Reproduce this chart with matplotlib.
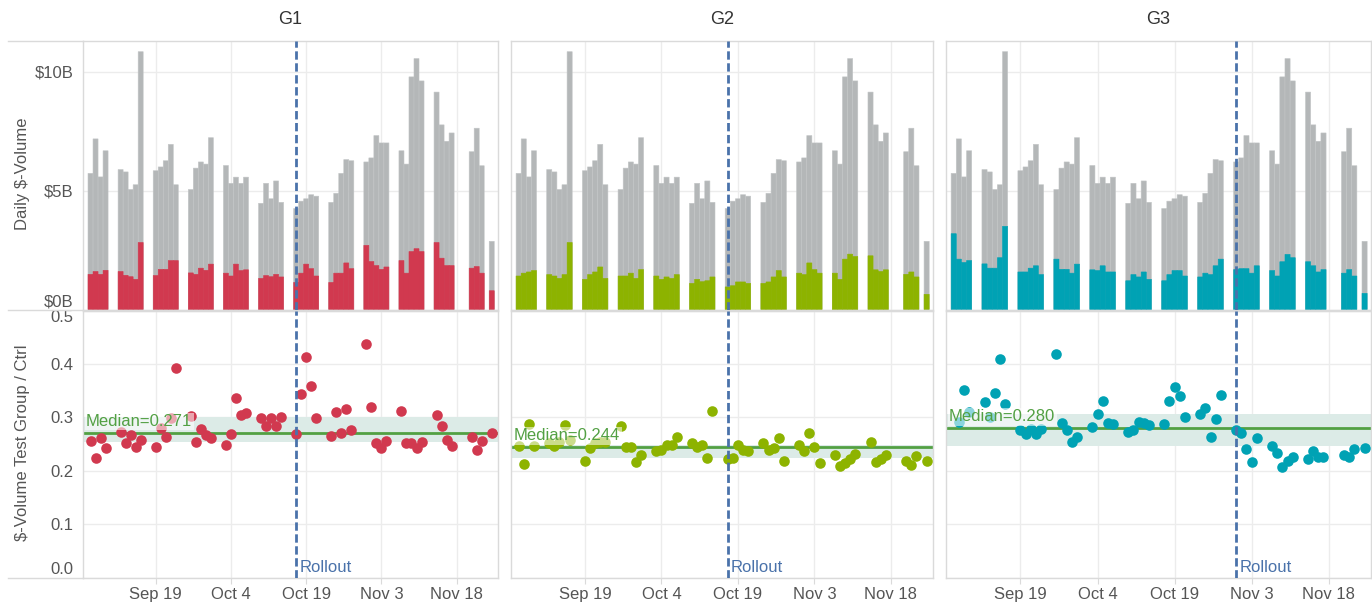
import matplotlib
matplotlib.use("Agg")
import matplotlib.pyplot as plt
import matplotlib.dates as mdates
from matplotlib.lines import Line2D
import pandas as pd

plt.rcParams['font.family'] = ['Liberation Sans', 'DejaVu Sans']

# trading days shown (Labor Day, Nov 18 and Thanksgiving are absent)
dates = [
    "2016-09-06", "2016-09-07", "2016-09-08", "2016-09-09",
    "2016-09-12", "2016-09-13", "2016-09-14", "2016-09-15", "2016-09-16",
    "2016-09-19", "2016-09-20", "2016-09-21", "2016-09-22", "2016-09-23",
    "2016-09-26", "2016-09-27", "2016-09-28", "2016-09-29", "2016-09-30",
    "2016-10-03", "2016-10-04", "2016-10-05", "2016-10-06", "2016-10-07",
    "2016-10-10", "2016-10-11", "2016-10-12", "2016-10-13", "2016-10-14",
    "2016-10-17", "2016-10-18", "2016-10-19", "2016-10-20", "2016-10-21",
    "2016-10-24", "2016-10-25", "2016-10-26", "2016-10-27", "2016-10-28",
    "2016-10-31", "2016-11-01", "2016-11-02", "2016-11-03", "2016-11-04",
    "2016-11-07", "2016-11-08", "2016-11-09", "2016-11-10", "2016-11-11",
    "2016-11-14", "2016-11-15", "2016-11-16", "2016-11-17",
    "2016-11-21", "2016-11-22", "2016-11-23",
    "2016-11-25",
]

groups = ["G1", "G2", "G3"]

# total daily $-volume, $B (grey, same in every panel)
total_vol = [
    5.73, 7.18, 5.58, 6.68,
    5.89, 5.79, 5.05, 5.25, 10.85,
    5.84, 6.00, 6.26, 6.95, 5.25,
    5.05, 5.95, 6.21, 6.12, 7.23,
    6.06, 5.31, 5.57, 5.31, 5.57,
    4.47, 5.31, 4.66, 5.41, 4.51,
    4.25, 4.56, 4.66, 4.83, 4.77,
    4.51, 4.89, 5.73, 6.31, 6.26,
    6.21, 6.38, 7.32, 7.01, 7.01,
    6.68, 6.12, 9.79, 10.56, 9.62,
    9.15, 7.77, 7.08, 7.43,
    6.64, 7.63, 6.05,
    2.87,
]

# test-group daily $-volume, $B
g1_vol = [
    1.48, 1.60, 1.48, 1.65,
    1.60, 1.44, 1.38, 1.27, 2.82,
    1.43, 1.69, 1.69, 2.06, 2.06,
    1.54, 1.48, 1.74, 1.65, 1.91,
    1.53, 1.41, 1.91, 1.64, 1.67,
    1.31, 1.43, 1.38, 1.48, 1.37,
    1.14, 1.53, 1.91, 1.72, 1.41,
    1.14, 1.53, 1.53, 1.96, 1.72,
    2.70, 2.02, 1.85, 1.69, 1.79,
    2.06, 1.53, 2.44, 2.56, 2.44,
    2.82, 2.16, 1.85, 1.85,
    1.74, 1.81, 1.53,
    0.79,
]
g2_vol = [
    1.41, 1.53, 1.58, 1.64,
    1.47, 1.41, 1.31, 1.47, 2.82,
    1.27, 1.47, 1.58, 1.79, 1.31,
    1.41, 1.41, 1.53, 1.31, 1.68,
    1.41, 1.27, 1.37, 1.31, 1.47,
    1.10, 1.27, 1.17, 1.21, 1.37,
    0.95, 1.00, 1.16, 1.16, 1.10,
    1.10, 1.16, 1.37, 1.64, 1.37,
    1.53, 1.47, 1.96, 1.68, 1.53,
    1.53, 1.27, 2.12, 2.33, 2.23,
    2.26, 1.67, 1.60, 1.67,
    1.48, 1.58, 1.37,
    0.64,
]
g3_vol = [
    3.19, 2.12, 1.98, 2.06,
    1.92, 1.74, 1.74, 2.18, 3.50,
    1.58, 1.58, 1.74, 1.84, 1.47,
    2.12, 1.69, 1.69, 1.53, 1.91,
    1.67, 1.64, 1.84, 1.58, 1.58,
    1.21, 1.47, 1.37, 1.58, 1.27,
    1.21, 1.47, 1.64, 1.64, 1.41,
    1.37, 1.53, 1.47, 1.84, 2.12,
    1.68, 1.72, 1.72, 1.53, 1.84,
    1.64, 1.41, 2.01, 2.32, 2.18,
    2.01, 1.84, 1.58, 1.68,
    1.53, 1.68, 1.41,
    0.68,
]

# $-volume test group / ctrl
g1_ratio = [
    0.256, 0.223, 0.261, 0.242,
    0.272, 0.251, 0.267, 0.244, 0.258,
    0.244, 0.280, 0.264, 0.298, 0.392,
    0.302, 0.253, 0.278, 0.266, 0.262,
    0.249, 0.269, 0.336, 0.305, 0.308,
    0.298, 0.284, 0.299, 0.284, 0.300,
    0.268, 0.343, 0.412, 0.359, 0.299,
    0.265, 0.310, 0.270, 0.315, 0.277,
    0.437, 0.319, 0.251, 0.242, 0.256,
    0.312, 0.251, 0.251, 0.242, 0.253,
    0.305, 0.284, 0.258, 0.247,
    0.263, 0.239, 0.256,
    0.270,
]
g2_ratio = [
    0.246, 0.212, 0.287, 0.246,
    0.251, 0.246, 0.254, 0.286, 0.258,
    0.219, 0.242, 0.251, 0.254, 0.254,
    0.283, 0.245, 0.245, 0.217, 0.229,
    0.237, 0.239, 0.248, 0.248, 0.264,
    0.251, 0.245, 0.248, 0.223, 0.311,
    0.222, 0.223, 0.248, 0.239, 0.237,
    0.251, 0.239, 0.242, 0.261, 0.219,
    0.248, 0.236, 0.270, 0.245, 0.214,
    0.229, 0.208, 0.214, 0.221, 0.232,
    0.253, 0.217, 0.221, 0.229,
    0.219, 0.211, 0.228,
    0.219,
]
g3_ratio = [
    0.557, 0.292, 0.352, 0.310,
    0.329, 0.300, 0.346, 0.409, 0.325,
    0.276, 0.269, 0.279, 0.269, 0.278,
    0.419, 0.290, 0.276, 0.253, 0.263,
    0.281, 0.306, 0.331, 0.290, 0.287,
    0.273, 0.276, 0.292, 0.289, 0.286,
    0.287, 0.331, 0.356, 0.339, 0.300,
    0.306, 0.317, 0.264, 0.296, 0.341,
    0.276, 0.270, 0.240, 0.216, 0.261,
    0.247, 0.233, 0.206, 0.219, 0.225,
    0.221, 0.237, 0.225, 0.225,
    0.229, 0.225, 0.240,
    0.242,
]

medians = [0.271, 0.244, 0.280]
bands = [(0.254, 0.301), (0.223, 0.249), (0.247, 0.306)]
rollouts = ["2016-10-17", "2016-10-17", "2016-10-31"]

tick_dates = ["2016-09-19", "2016-10-04", "2016-10-19", "2016-11-03", "2016-11-18"]
tick_labels = ["Sep 19", "Oct 4", "Oct 19", "Nov 3", "Nov 18"]
vol_ticks = [0, 5, 10]
vol_labels = ["$0B", "$5B", "$10B"]
ratio_ticks = [0.0, 0.1, 0.2, 0.3, 0.4, 0.5]
ratio_labels = ["0.0", "0.1", "0.2", "0.3", "0.4", "0.5"]

vols = [g1_vol, g2_vol, g3_vol]
ratios = [g1_ratio, g2_ratio, g3_ratio]
colors = ["#d1394f", "#8db300", "#00a2b4"]

GREY = "#b4b7b8"
GRID = "#ececec"
FRAME = "#dadada"
TXT = "#555555"
BLUE = "#4a72aa"
GREEN = "#52a043"
BAND = "#dcebe7"

W, H = 1372, 604
x = mdates.date2num(pd.to_datetime(dates))
xt = mdates.date2num(pd.to_datetime(tick_dates))
x_lo = mdates.date2num(pd.Timestamp("2016-09-04 12:00"))
x_hi = mdates.date2num(pd.Timestamp("2016-11-26 06:00"))

# pixel layout of the panels
cols = [(83, 498), (511, 933), (946, 1371)]
top_row = (41, 309.5)
bot_row = (310.5, 577.5)


def rect(x0, x1, yt, yb):
    return [x0 / W, 1 - yb / H, (x1 - x0) / W, (yb - yt) / H]


fig = plt.figure(figsize=(W / 100, H / 100), dpi=100)


def style(ax):
    for sp in ax.spines.values():
        sp.set_color(FRAME)
        sp.set_linewidth(1)
    ax.set_axisbelow(True)
    ax.grid(True, color=GRID, linewidth=1)
    ax.set_xlim(x_lo, x_hi)
    ax.set_xticks(xt)


for i, g in enumerate(groups):
    c0, c1 = cols[i]
    roll = mdates.date2num(pd.Timestamp(rollouts[i]))

    # --- volume bars ---
    ax = fig.add_axes(rect(c0, c1, *top_row))
    style(ax)
    ax.bar(x, total_vol, width=1.0, color=GREY, edgecolor="#c2c5c6",
           linewidth=0.4, snap=False)
    ax.bar(x, vols[i], width=1.0, color=colors[i], edgecolor=colors[i],
           linewidth=0.4, snap=False)
    ax.set_ylim(0, 11.3)
    ax.set_yticks(vol_ticks)
    ax.tick_params(axis="x", length=0, labelbottom=False)
    ax.tick_params(axis="y", length=0, pad=7, labelsize=12, labelcolor=TXT)
    if i == 0:
        ax.set_yticklabels(vol_labels)
        ax.get_yticklabels()[0].set_va("bottom")
    else:
        ax.set_yticklabels([])
    ax.axvline(roll, color=BLUE, linewidth=2, linestyle=(0, (3, 1.3)), zorder=5)

    # --- ratio scatter ---
    ax2 = fig.add_axes(rect(c0, c1, *bot_row))
    style(ax2)
    lo, hi = bands[i]
    ax2.axhspan(lo, hi, color=BAND, linewidth=0, zorder=1)
    ax2.axhline(medians[i], color=GREEN, linewidth=2, zorder=2)
    ax2.scatter(x, ratios[i], s=58, color=colors[i], linewidths=0, zorder=3)
    ax2.text(x_lo + 0.6, medians[i] + 0.007, "Median=%.3f" % medians[i],
             fontsize=12, color=GREEN, va="bottom", ha="left", zorder=4,
             bbox=dict(boxstyle="square,pad=0.08", facecolor="white",
                       edgecolor="none", alpha=0.55))
    ax2.axvline(roll, color=BLUE, linewidth=2, linestyle=(0, (3, 1.3)), zorder=5)
    ax2.text(roll + 0.6, 0.004, "Rollout", fontsize=12, color=BLUE,
             va="bottom", ha="left", zorder=5)
    ax2.set_ylim(0, 0.5)
    ax2.set_yticks(ratio_ticks)
    ax2.set_xticklabels(tick_labels)
    ax2.tick_params(axis="x", length=4, color=FRAME, pad=3, labelsize=12,
                    labelcolor=TXT)
    ax2.tick_params(axis="y", length=0, pad=7, labelsize=12, labelcolor=TXT)
    if i == 0:
        ax2.set_yticklabels(ratio_labels)
        labs = ax2.get_yticklabels()
        labs[0].set_va("bottom")
        labs[-1].set_va("top")
    else:
        ax2.set_yticklabels([])

    fig.text((c0 + c1) / 2 / W, 1 - 20 / H, g, fontsize=13, color="#333333",
             ha="center", va="center")

# header rules that run into the label column on the left
for yy in (41, 310, 577.5):
    fig.add_artist(Line2D([8 / W, 83 / W], [1 - yy / H, 1 - yy / H],
                          color=FRAME, linewidth=1))

fig.text(23 / W, 1 - 174 / H, "Daily $-Volume", rotation=90, fontsize=12,
         color=TXT, ha="center", va="center")
fig.text(23 / W, 1 - 443 / H, "$-Volume Test Group / Ctrl", rotation=90,
         fontsize=12, color=TXT, ha="center", va="center")

fig.savefig("out.png", dpi=100)
